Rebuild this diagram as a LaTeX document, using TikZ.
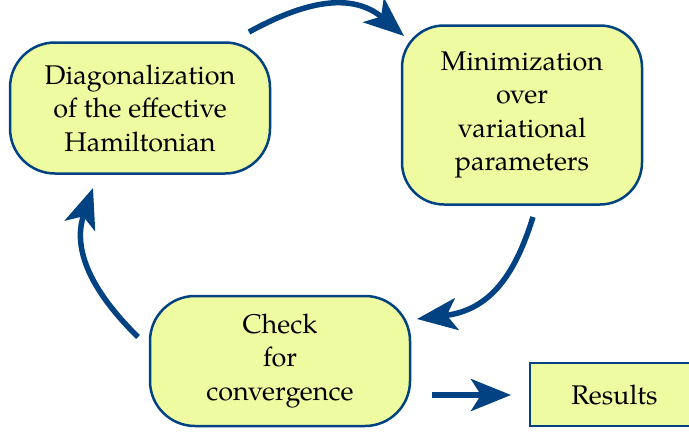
\documentclass[tikz,border=0pt]{standalone}
\usepackage{fontspec}
\setmainfont{TeX Gyre Pagella}
\usetikzlibrary{arrows.meta}
\definecolor{flowblue}{RGB}{0,66,130}
\definecolor{boxfill}{HTML}{EFFBA0}
\tikzset{
  stagebox/.style={draw=flowblue, line width=2.5pt, fill=boxfill, align=center,
    font=\fontsize{27}{33.5}\selectfont, inner sep=0pt},
  flowarrow/.style={draw=flowblue, line width=5.5pt,
    -{Stealth[length=40pt,width=32pt,inset=10pt]}},
}
\begin{document}
\begin{tikzpicture}[x=1pt,y=-1pt]
  \useasboundingbox (0,0) rectangle (689,432);
  \clip (0,0) rectangle (689,432);

  % process stages
  \node[stagebox, rounded corners=45pt, minimum width=260pt, minimum height=131pt]
    (diag) at (140,108) {Diagonalization\\of the effective\\Hamiltonian};
  \node[stagebox, rounded corners=42pt, minimum width=240pt, minimum height=179pt]
    (mini) at (522,115) {Minimization\\over\\variational\\parameters};
  \node[stagebox, rounded corners=45pt, minimum width=260pt, minimum height=130pt]
    (check) at (280,361) {Check\\for\\convergence};
  \node[stagebox, minimum width=169pt, minimum height=63pt]
    (res) at (614.5,394.5) {Results};

  % free ends of the loop connectors
  \coordinate (d2m-s) at (249,32);
  \coordinate (d2m-e) at (404,36);
  \coordinate (m2c-s) at (533,217);
  \coordinate (m2c-e) at (417,319);
  \coordinate (c2d-s) at (138,337);
  \coordinate (c2d-e) at (93,188);
  \coordinate (c2r-s) at (432,395);
  \coordinate (c2r-e) at (511,395);

  % iteration loop
  \draw[flowarrow] (d2m-s) .. controls (300,4) and (350,-10) .. (d2m-e);
  \draw[flowarrow] (m2c-s) .. controls (515,275) and (490,310) .. (m2c-e);
  \draw[flowarrow] (c2d-s) .. controls (80,280) and (75,240) .. (c2d-e);
  % exit to results
  \draw[flowarrow] (c2r-s) -- (c2r-e);
\end{tikzpicture}
\end{document}
